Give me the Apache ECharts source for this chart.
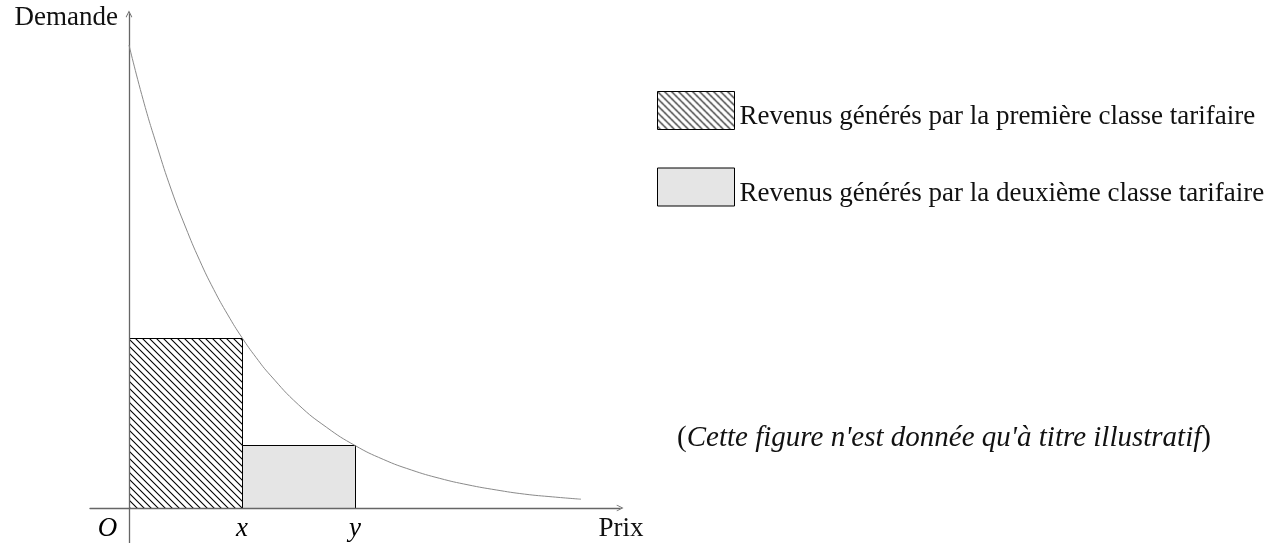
<!DOCTYPE html>
<html>
<head>
<meta charset="utf-8">
<script src="https://cdn.jsdelivr.net/npm/echarts@6/dist/echarts.min.js"></script>
<style>
html,body{margin:0;padding:0;background:#fff;}
#chart{width:1268px;height:543px;}
</style>
</head>
<body>
<div id="chart"></div>
<script>
// ---- data ----
const xTickValues = [-0.19, 1, 2];
const xTickLabels = ['O', 'x', 'y'];
const xAxisName = 'Prix';
const yAxisName = 'Demande';

const curveX = [0, 0.125, 0.25, 0.375, 0.5, 0.625, 0.75, 0.875, 1, 1.125, 1.25, 1.5, 1.75, 2, 2.25, 2.5, 2.75, 3, 3.25, 3.5, 3.75, 4.0];
const curveY = [1.0, 0.882, 0.78, 0.687, 0.607, 0.535, 0.472, 0.417, 0.368, 0.325, 0.287, 0.223, 0.174, 0.135, 0.105, 0.082, 0.064, 0.05, 0.039, 0.03, 0.024, 0.019];

const rectNames = ['Revenus générés par la première classe tarifaire', 'Revenus générés par la deuxième classe tarifaire'];
const rectX0 = [0, 1];
const rectX1 = [1, 2];
const rectH = [0.368, 0.135];

const captionText = "Cette figure n'est donnée qu'à titre illustratif";

// ---- hatch pattern ----
function makeHatch() {
  const s = 7;
  const c = document.createElement('canvas');
  c.width = s; c.height = s;
  const g = c.getContext('2d');
  g.strokeStyle = '#000';
  g.lineWidth = 1.1;
  g.beginPath();
  g.moveTo(-1, -1); g.lineTo(s + 1, s + 1);
  g.moveTo(-1, s - 1); g.lineTo(1, s + 1);
  g.moveTo(s - 1, -1); g.lineTo(s + 1, 1);
  g.stroke();
  return c;
}
const hatch = { image: makeHatch(), repeat: 'repeat' };
const fills = [hatch, '#e5e5e5'];

const chart = echarts.init(document.getElementById('chart'), null, { renderer: 'canvas' });
const arrowPath = 'path://M0,10 L5,0 L10,10 L9,10.6 L5,3 L1,10.6 Z';
const serif = 'Liberation Serif';
const fs = 27;

function renderRect(params, api) {
  const p0 = api.coord([api.value(0), api.value(2)]);
  const p1 = api.coord([api.value(1), 0]);
  return {
    type: 'rect',
    shape: { x: Math.round(p0[0]) + 0.5, y: Math.round(p0[1]) + 0.5, width: Math.round(p1[0] - p0[0]), height: Math.round(p1[1] - p0[1]) },
    style: api.style()
  };
}

const series = rectNames.map((n, i) => ({
  type: 'custom',
  name: n,
  renderItem: renderRect,
  encode: { x: [0, 1], y: 2 },
  data: [[rectX0[i], rectX1[i], rectH[i]]],
  itemStyle: { color: fills[i], borderColor: '#000', borderWidth: 1 },
  z: 2,
  silent: true
}));
series.push({
  type: 'line',
  name: 'demande',
  data: curveX.map((x, i) => [x, curveY[i]]),
  smooth: true,
  showSymbol: false,
  lineStyle: { color: '#8a8a8a', width: 1 },
  z: 4,
  silent: true
});
// tick labels on the x axis line (O, x, y)
series.push({
  type: 'scatter',
  name: 'ticks',
  data: xTickValues.map((v, i) => ({ value: [v, 0], label: { formatter: xTickLabels[i] } })),
  symbolSize: 0,
  itemStyle: { opacity: 1 },
  label: {
    show: true, position: 'bottom', distance: 7,
    fontFamily: serif, fontStyle: 'italic', fontSize: fs, color: '#000', opacity: 1
  },
  z: 5,
  silent: true
});

chart.setOption({
  animation: false,
  backgroundColor: '#fff',
  grid: { left: 90, right: 648, top: 14, bottom: 0, containLabel: false, outerBoundsMode: 'none' },
  xAxis: {
    type: 'value', min: -0.345, max: 4.345,
    splitLine: { show: false },
    axisTick: { show: false },
    axisLabel: { show: false },
    axisLine: { onZero: true, lineStyle: { color: '#666', width: 1.3 }, symbol: ['none', arrowPath], symbolSize: [9, 7] },
    name: xAxisName, nameLocation: 'end', nameGap: 0,
    nameTextStyle: { fontFamily: serif, fontSize: fs, color: '#111', align: 'center', verticalAlign: 'top', padding: [7, 0, 0, 2] },
    z: 3
  },
  yAxis: {
    type: 'value', min: -0.0756, max: 1.067,
    splitLine: { show: false },
    axisTick: { show: false },
    axisLabel: { show: false },
    axisLine: { onZero: true, lineStyle: { color: '#666', width: 1.3 }, symbol: ['none', arrowPath], symbolSize: [9, 7] },
    name: yAxisName, nameLocation: 'end', nameGap: -4,
    nameTextStyle: { fontFamily: serif, fontSize: fs, color: '#111', align: 'right', verticalAlign: 'middle', padding: [0, 11, 0, 0] },
    z: 3
  },
  legend: {
    data: rectNames,
    orient: 'vertical',
    left: 652, top: 86,
    itemWidth: 77, itemHeight: 38, itemGap: 37,
    icon: 'rect',
    itemStyle: { borderColor: '#000', borderWidth: 1 },
    formatter: name => '{t|' + name + '}',
    textStyle: {
      fontFamily: serif, fontSize: fs, color: '#111',
      rich: { t: { fontFamily: serif, fontSize: fs, color: '#111', padding: [13, 0, 0, 0] } }
    },
    selectedMode: false
  },
  title: {
    text: '{a|(}{b|' + captionText + '}{a|)}',
    left: 939, top: 419, textAlign: 'center',
    textStyle: {
      fontWeight: 'normal',
      rich: {
        a: { fontFamily: serif, fontWeight: 'normal', fontSize: 29, color: '#111' },
        b: { fontFamily: serif, fontStyle: 'italic', fontWeight: 'normal', fontSize: 29, color: '#111' }
      }
    }
  },
  series: series
});
</script>
</body>
</html>
